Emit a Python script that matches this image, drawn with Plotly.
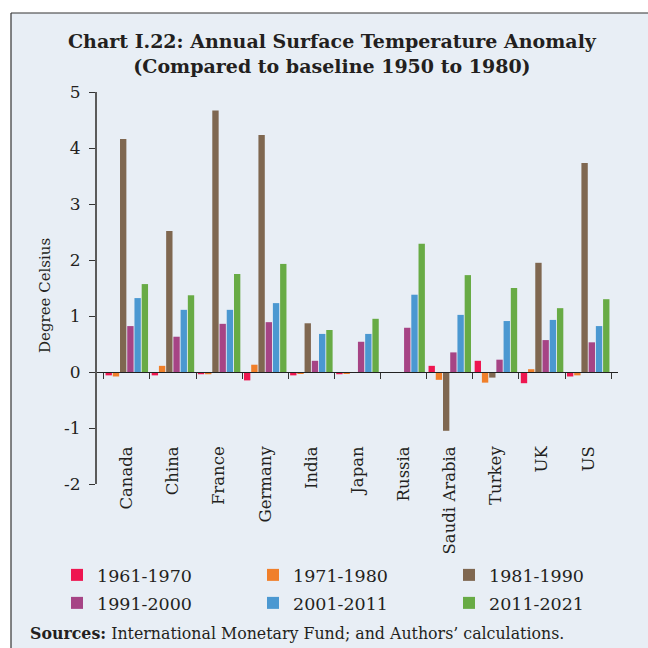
import plotly.graph_objects as go

countries = ["Canada", "China", "France", "Germany", "India", "Japan", "Russia",
             "Saudi Arabia", "Turkey", "UK", "US"]
periods = ["1961-1970", "1971-1980", "1981-1990", "1991-2000", "2001-2011", "2011-2021"]

v1961 = [-0.06, -0.06, -0.04, -0.15, -0.06, -0.04, 0.0, 0.11, 0.20, -0.20, -0.08]
v1971 = [-0.08, 0.11, -0.04, 0.13, -0.02, -0.03, 0.0, -0.14, -0.19, 0.05, -0.06]
v1981 = [4.16, 2.52, 4.67, 4.23, 0.87, 0.0, 0.0, -1.05, -0.10, 1.95, 3.73]
v1991 = [0.82, 0.63, 0.86, 0.89, 0.20, 0.54, 0.79, 0.35, 0.22, 0.57, 0.53]
v2001 = [1.32, 1.11, 1.11, 1.23, 0.68, 0.68, 1.38, 1.02, 0.91, 0.93, 0.82]
v2011 = [1.57, 1.37, 1.75, 1.93, 0.75, 0.95, 2.29, 1.73, 1.50, 1.14, 1.30]

series = [v1961, v1971, v1981, v1991, v2001, v2011]
colors = ["#EE1650", "#F07F2A", "#7F6750", "#A64485", "#4B98D1", "#68AB45"]
legend_ids = ["legend", "legend", "legend", "legend2", "legend2", "legend2"]

yticks = [5, 4, 3, 2, 1, 0, -1, -2]
ytick_text = ["5", "4", "3", "2", "1", "0", "-1", "-2"]

FONT = "DejaVu Serif"
TXT = "#231F20"
BG = "#E8EEF5"

fig = go.Figure()
for name, vals, col, lg in zip(periods, series, colors, legend_ids):
    fig.add_trace(go.Bar(x=countries, y=vals, name=name, marker_color=col,
                         marker_line_width=0, legend=lg))

# invisible trace on the zero-line axis
fig.add_trace(go.Scatter(x=countries, y=[0] * len(countries), xaxis="x2",
                         mode="markers", marker_opacity=0, showlegend=False,
                         hoverinfo="skip"))

L, R, T, B = 97, 30, 92, 164
W = H = 648
pw = W - L - R
ph = H - T - B
ymin, ymax = -2, 5


def px_x(x):
    return (x - L) / pw


def px_y(y):
    return (H - B - y) / ph


legend_common = dict(orientation="h", xanchor="left", yanchor="top",
                     font=dict(family=FONT, size=17.5, color=TXT),
                     entrywidth=151, bgcolor="rgba(0,0,0,0)",
                     itemsizing="constant")

fig.update_layout(
    width=W, height=H,
    margin=dict(l=L, r=R, t=T, b=B, autoexpand=False),
    paper_bgcolor=BG,
    plot_bgcolor="rgba(0,0,0,0)",
    barmode="group", bargap=0.06, bargroupgap=0.12,
    font=dict(family=FONT, color=TXT, size=15),
    showlegend=True,
    legend=dict(x=px_x(57), y=px_y(557), **legend_common),
    legend2=dict(x=px_x(57), y=px_y(585), **legend_common),
    xaxis=dict(showline=False, ticks="", showgrid=False, zeroline=False,
               anchor="free", position=(484 - 442) / ph,
               tickangle=-90, tickfont=dict(family=FONT, size=16.5, color=TXT),
               ticklabelstandoff=0),
    xaxis2=dict(overlaying="x", matches="x", anchor="free",
                position=(0 - ymin) / (ymax - ymin),
                showline=True, linecolor="#222", linewidth=1,
                ticks="outside", tickson="boundaries", ticklen=6,
                tickcolor="#333", tickwidth=1, showticklabels=False,
                showgrid=False, zeroline=False, side="bottom"),
    yaxis=dict(range=[ymin, ymax], tickvals=yticks, ticktext=ytick_text,
               showgrid=False,
               zeroline=False, showline=True, linecolor="#5A5A5A", linewidth=2,
               ticks="outside", ticklen=6, tickcolor="#333",
               ticklabelstandoff=5,
               tickfont=dict(family=FONT, size=17, color=TXT)),
)

# y-axis title
fig.add_annotation(xref="paper", yref="paper", x=px_x(45), y=px_y(296),
                   xanchor="center", yanchor="middle", showarrow=False,
                   textangle=-90, text="Degree Celsius",
                   font=dict(family=FONT, size=15, color=TXT))

# white surround outside the framed panel, and the frame lines
fig.add_shape(type="rect", xref="paper", yref="paper",
              x0=px_x(-50), x1=px_x(W + 50), y0=px_y(13), y1=px_y(-50),
              line_width=0, fillcolor="white", layer="below")
fig.add_shape(type="rect", xref="paper", yref="paper",
              x0=px_x(-50), x1=px_x(11), y0=px_y(H + 50), y1=px_y(-50),
              line_width=0, fillcolor="white", layer="below")
fig.add_shape(type="line", xref="paper", yref="paper",
              x0=px_x(11), x1=px_x(W + 50), y0=px_y(13), y1=px_y(13),
              line=dict(color="#333", width=1.2), layer="below")
fig.add_shape(type="line", xref="paper", yref="paper",
              x0=px_x(11), x1=px_x(11), y0=px_y(13), y1=px_y(H + 50),
              line=dict(color="#333", width=1.2), layer="below")

fig.add_annotation(xref="paper", yref="paper", x=px_x(332),
                   y=px_y(28), yanchor="top", showarrow=False,
                   text="<b>Chart I.22: Annual Surface Temperature Anomaly<br>"
                        "(Compared to baseline 1950 to 1980)</b>",
                   font=dict(family=FONT, size=19, color=TXT), align="center")

fig.add_annotation(xref="paper", yref="paper", x=px_x(28),
                   y=px_y(633), xanchor="left", yanchor="middle",
                   showarrow=False,
                   text="<b>Sources:</b> International Monetary Fund; and Authors’ calculations.",
                   font=dict(family=FONT, size=15.8, color=TXT), align="left")

fig.write_html("out.html", config={"displayModeBar": False},
               post_script="document.body.style.margin='0';"
                           "document.documentElement.style.overflow='hidden';")
